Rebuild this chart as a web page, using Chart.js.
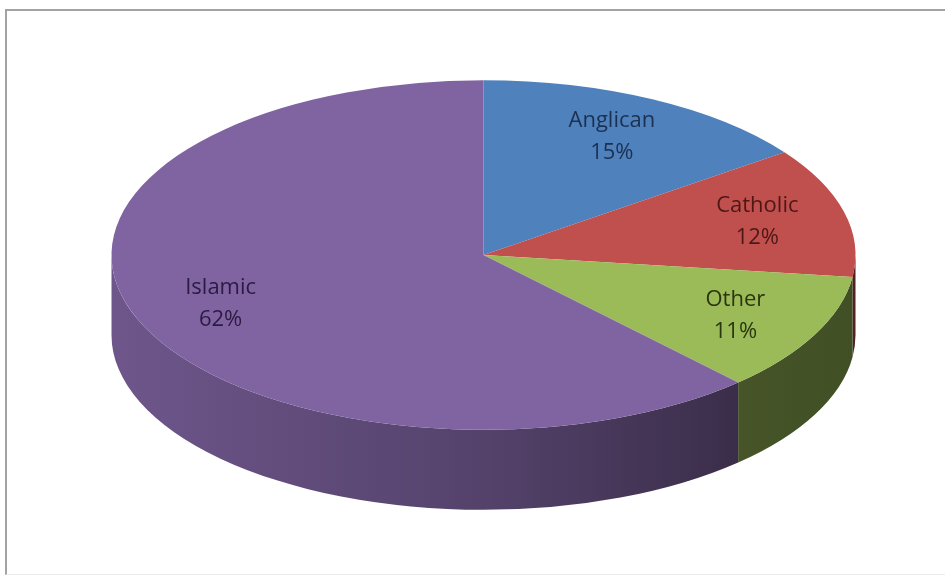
<!DOCTYPE html>
<html>
<head>
<meta charset="utf-8">
<script src="https://cdn.jsdelivr.net/npm/chart.js@4.4.0/dist/chart.umd.min.js"></script>
<style>
  html, body { margin: 0; padding: 0; background: #fff; }
  #wrap { position: relative; width: 945px; height: 581px; overflow: hidden; }
  #frame { position: absolute; left: 5px; top: 9px; width: 960px; height: 566px;
           border: 2px solid #a3a3a3; border-bottom: 1px solid #ececec; box-sizing: border-box; }
  #myChart { position: absolute; left: 0; top: 0; }
</style>
</head>
<body>
<div id="wrap">
  <div id="frame"></div>
  <canvas id="myChart" width="945" height="581"></canvas>
</div>
<script>
var labels = ["Anglican", "Catholic", "Other", "Islamic"];
var values = [15, 12, 11, 62];
var colors = ["#4f81bd", "#c0504d", "#9bbb59", "#8064a2"];
var textColors = ["#1b3152", "#4d1716", "#2b3510", "#2b1b42"];

var tilt = 0.47;     // vertical squash of the pie
var depth = 80;      // thickness of the side
var labelPos = 0.76;

function shade(hex, f) {
    var n = parseInt(hex.slice(1), 16);
    var r = Math.round(((n >> 16) & 255) * f);
    var g = Math.round(((n >> 8) & 255) * f);
    var b = Math.round((n & 255) * f);
    return "rgb(" + r + "," + g + "," + b + ")";
}

var pie3d = {
    id: 'pie3d',
    beforeDatasetsDraw: function (chart) {
        var ctx = chart.ctx;
        var arcs = chart.getDatasetMeta(0).data;
        var cx = arcs[0].x, cy = arcs[0].y, R = arcs[0].outerRadius;
        var ry = R * tilt;
        // side walls, front half only
        arcs.forEach(function (arc, i) {
            var a0 = Math.max(arc.startAngle, 0);
            var a1 = Math.min(arc.endAngle, Math.PI);
            if (a1 <= a0) return;
            var grad = ctx.createLinearGradient(cx - R, 0, cx + R, 0);
            grad.addColorStop(0, shade(colors[i], 0.86));
            grad.addColorStop(0.5, shade(colors[i], 0.66));
            grad.addColorStop(0.85, shade(colors[i], 0.45));
            grad.addColorStop(1, shade(colors[i], 0.42));
            ctx.save();
            ctx.beginPath();
            ctx.ellipse(cx, cy, R, ry, 0, a0, a1, false);
            ctx.lineTo(cx + R * Math.cos(a1), cy + ry * Math.sin(a1) + depth);
            ctx.ellipse(cx, cy + depth, R, ry, 0, a1, a0, true);
            ctx.closePath();
            ctx.fillStyle = grad;
            ctx.fill();
            ctx.restore();
        });
        ctx.save();
        ctx.translate(cx, cy);
        ctx.scale(1, tilt);
        ctx.translate(-cx, -cy);
    },
    afterDatasetsDraw: function (chart) {
        var ctx = chart.ctx;
        ctx.restore();
        var arcs = chart.getDatasetMeta(0).data;
        var total = values.reduce(function (a, b) { return a + b; }, 0);
        ctx.save();
        ctx.font = '22px "Open Sans"';
        ctx.textAlign = 'center';
        ctx.textBaseline = 'middle';
        arcs.forEach(function (arc, i) {
            var mid = (arc.startAngle + arc.endAngle) / 2;
            var x = arc.x + Math.cos(mid) * arc.outerRadius * labelPos;
            var y = arc.y + Math.sin(mid) * arc.outerRadius * tilt * labelPos;
            ctx.fillStyle = textColors[i];
            ctx.fillText(labels[i], x, y - 16);
            ctx.fillText(Math.round(values[i] / total * 100) + '%', x, y + 16);
        });
        ctx.restore();
    }
};

function renderChart(values, labels) {
    var ctx = document.getElementById("myChart").getContext('2d');
    var myChart = new Chart(ctx, {
        type: 'pie',
        data: {
            labels: labels,
            datasets: [{
                data: values,
                backgroundColor: colors,
                borderWidth: 0
            }]
        },
        options: {
            responsive: false,
            animation: false,
            radius: 372,
            layout: { padding: { left: 22, right: 0, top: 0, bottom: 71 } },
            plugins: { legend: { display: false }, tooltip: { enabled: false } }
        },
        plugins: [pie3d]
    });
}

renderChart(values, labels);
</script>
</body>
</html>
